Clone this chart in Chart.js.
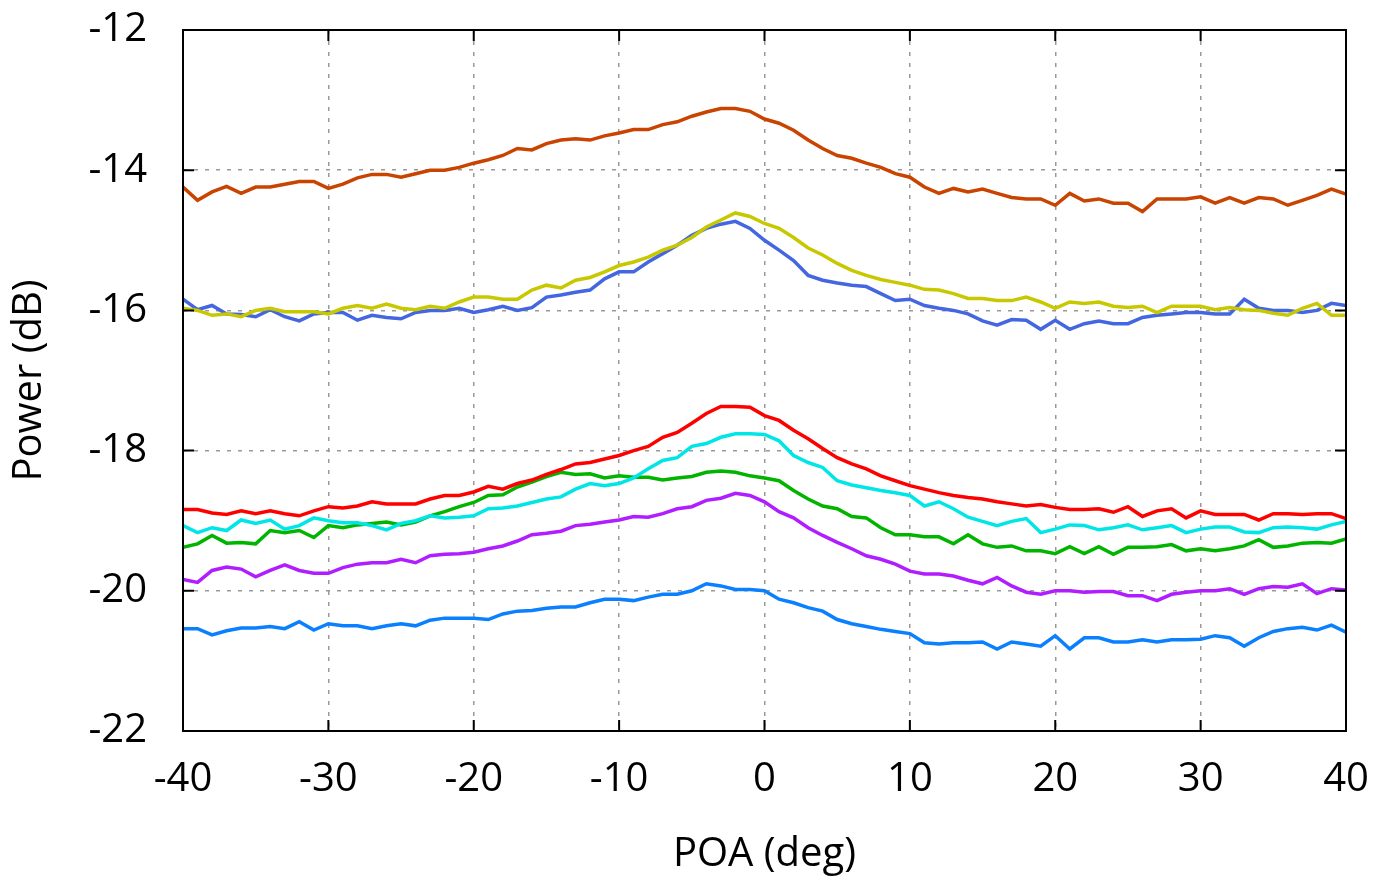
<!DOCTYPE html>
<html>
<head>
<meta charset="utf-8">
<script src="https://cdn.jsdelivr.net/npm/chart.js@4/dist/chart.umd.min.js"></script>
<style>
  html, body { margin: 0; padding: 0; background: #fff; }
  #wrap { width: 1388px; height: 885px; }
</style>
</head>
<body>
<div id="wrap"><canvas id="powerChart"></canvas></div>
<script>
// POA angle (deg), one reading per degree
const angles = [-40,-39,-38,-37,-36,-35,-34,-33,-32,-31,-30,-29,-28,-27,-26,-25,-24,-23,-22,-21,
  -20,-19,-18,-17,-16,-15,-14,-13,-12,-11,-10,-9,-8,-7,-6,-5,-4,-3,-2,-1,
  0,1,2,3,4,5,6,7,8,9,10,11,12,13,14,15,16,17,18,19,
  20,21,22,23,24,25,26,27,28,29,30,31,32,33,34,35,36,37,38,39,40];

const xTicks = [-40, -30, -20, -10, 0, 10, 20, 30, 40];
const yTicks = [-22, -20, -18, -16, -14, -12];

// power readings (dB)
const rust = [-14.24,-14.43,-14.31,-14.23,-14.33,-14.24,-14.24,-14.20,-14.16,-14.16,-14.26,-14.20,-14.11,-14.06,-14.06,-14.10,-14.05,-14.00,-14.00,-13.96,-13.90,-13.85,-13.79,-13.69,-13.71,-13.62,-13.57,
  -13.55,-13.57,-13.51,-13.47,-13.42,-13.42,-13.35,-13.31,-13.23,-13.17,-13.12,-13.12,-13.16,-13.27,-13.33,-13.43,-13.57,-13.69,-13.79,-13.83,-13.90,-13.96,-14.05,-14.10,-14.24,-14.33,
  -14.26,-14.31,-14.27,-14.33,-14.39,-14.41,-14.41,-14.50,-14.33,-14.44,-14.41,-14.47,-14.47,-14.59,-14.41,-14.41,-14.41,-14.38,-14.47,-14.39,-14.47,-14.39,-14.41,-14.50,-14.43,-14.36,-14.27,-14.34];

const yellow = [-15.97,-16.00,-16.07,-16.05,-16.09,-16.00,-15.97,-16.02,-16.02,-16.02,-16.05,-15.97,-15.93,-15.97,-15.91,-15.97,-15.99,-15.94,-15.97,-15.88,-15.81,-15.81,-15.84,-15.84,-15.71,-15.64,-15.68,
  -15.57,-15.53,-15.45,-15.36,-15.31,-15.24,-15.14,-15.07,-14.96,-14.81,-14.71,-14.61,-14.66,-14.76,-14.83,-14.96,-15.11,-15.21,-15.33,-15.43,-15.50,-15.56,-15.60,-15.64,-15.70,-15.71,
  -15.76,-15.83,-15.83,-15.86,-15.86,-15.81,-15.88,-15.97,-15.88,-15.90,-15.88,-15.94,-15.96,-15.94,-16.03,-15.94,-15.94,-15.94,-15.99,-15.96,-15.99,-16.00,-16.04,-16.07,-15.97,-15.90,-16.07,-16.07];

const royal = [-15.84,-15.99,-15.93,-16.05,-16.06,-16.09,-15.99,-16.09,-16.15,-16.05,-16.03,-16.03,-16.14,-16.07,-16.10,-16.12,-16.03,-16.00,-16.00,-15.97,-16.03,-15.99,-15.94,-16.00,-15.96,-15.81,-15.78,
  -15.74,-15.71,-15.55,-15.45,-15.45,-15.31,-15.19,-15.07,-14.93,-14.83,-14.77,-14.73,-14.83,-15.00,-15.14,-15.29,-15.50,-15.57,-15.61,-15.64,-15.66,-15.76,-15.86,-15.84,-15.93,-15.97,
  -16.00,-16.05,-16.15,-16.21,-16.13,-16.14,-16.27,-16.14,-16.27,-16.19,-16.15,-16.19,-16.19,-16.10,-16.07,-16.05,-16.03,-16.03,-16.05,-16.05,-15.84,-15.97,-16.00,-16.00,-16.03,-16.00,-15.90,-15.93];

const red = [-18.84,-18.84,-18.89,-18.91,-18.86,-18.90,-18.86,-18.90,-18.93,-18.86,-18.80,-18.82,-18.79,-18.73,-18.76,-18.76,-18.76,-18.69,-18.64,-18.64,-18.59,-18.51,-18.55,-18.47,-18.42,-18.34,-18.27,-18.19,
  -18.17,-18.12,-18.07,-18.00,-17.94,-17.81,-17.74,-17.61,-17.47,-17.37,-17.37,-17.38,-17.50,-17.57,-17.71,-17.83,-17.97,-18.10,-18.19,-18.26,-18.36,-18.43,-18.50,-18.55,-18.60,-18.64,
  -18.67,-18.69,-18.73,-18.76,-18.79,-18.77,-18.81,-18.84,-18.84,-18.83,-18.88,-18.80,-18.94,-18.86,-18.83,-18.96,-18.86,-18.91,-18.91,-18.91,-18.99,-18.90,-18.90,-18.91,-18.90,-18.90,-18.97];

const cyan = [-19.07,-19.17,-19.10,-19.14,-18.99,-19.04,-18.99,-19.12,-19.07,-18.96,-19.00,-19.03,-19.03,-19.07,-19.13,-19.04,-19.00,-18.93,-18.96,-18.95,-18.93,-18.83,-18.82,-18.79,-18.74,-18.69,-18.66,-18.55,
  -18.47,-18.50,-18.47,-18.39,-18.26,-18.14,-18.10,-17.94,-17.90,-17.81,-17.76,-17.76,-17.77,-17.86,-18.07,-18.17,-18.24,-18.43,-18.49,-18.53,-18.57,-18.60,-18.64,-18.79,-18.73,-18.83,
  -18.95,-19.01,-19.07,-19.01,-18.97,-19.17,-19.12,-19.06,-19.07,-19.13,-19.10,-19.06,-19.13,-19.10,-19.07,-19.17,-19.12,-19.09,-19.09,-19.16,-19.17,-19.10,-19.09,-19.10,-19.12,-19.06,-19.01];

const green = [-19.38,-19.33,-19.21,-19.32,-19.31,-19.33,-19.14,-19.17,-19.14,-19.24,-19.07,-19.10,-19.06,-19.04,-19.02,-19.06,-19.02,-18.93,-18.87,-18.80,-18.74,-18.64,-18.63,-18.52,-18.45,-18.37,-18.31,-18.34,
  -18.33,-18.39,-18.36,-18.38,-18.38,-18.42,-18.39,-18.37,-18.31,-18.29,-18.31,-18.36,-18.39,-18.43,-18.57,-18.69,-18.79,-18.83,-18.94,-18.96,-19.10,-19.20,-19.20,-19.23,-19.23,-19.33,
  -19.20,-19.33,-19.38,-19.36,-19.43,-19.43,-19.47,-19.37,-19.47,-19.37,-19.48,-19.38,-19.38,-19.37,-19.34,-19.43,-19.40,-19.43,-19.40,-19.36,-19.27,-19.38,-19.36,-19.32,-19.31,-19.32,-19.26];

const purple = [-19.84,-19.88,-19.71,-19.66,-19.69,-19.80,-19.71,-19.63,-19.71,-19.75,-19.75,-19.67,-19.62,-19.60,-19.60,-19.55,-19.60,-19.50,-19.48,-19.47,-19.45,-19.40,-19.36,-19.29,-19.20,-19.18,-19.15,-19.07,
  -19.05,-19.02,-18.99,-18.94,-18.95,-18.90,-18.83,-18.80,-18.71,-18.68,-18.61,-18.64,-18.73,-18.87,-18.96,-19.10,-19.21,-19.31,-19.40,-19.50,-19.55,-19.62,-19.72,-19.76,-19.76,-19.79,
  -19.85,-19.90,-19.81,-19.93,-20.02,-20.05,-20.00,-20.00,-20.02,-20.01,-20.01,-20.07,-20.07,-20.14,-20.05,-20.02,-20.00,-20.00,-19.97,-20.05,-19.97,-19.94,-19.95,-19.90,-20.04,-19.97,-19.99];

const azure = [-20.54,-20.54,-20.63,-20.57,-20.53,-20.53,-20.51,-20.54,-20.44,-20.56,-20.47,-20.50,-20.50,-20.54,-20.50,-20.47,-20.50,-20.42,-20.39,-20.39,-20.39,-20.41,-20.33,-20.29,-20.28,-20.25,-20.23,-20.23,
  -20.17,-20.12,-20.12,-20.14,-20.09,-20.05,-20.05,-20.00,-19.90,-19.93,-19.98,-19.98,-20.00,-20.12,-20.17,-20.24,-20.29,-20.41,-20.47,-20.51,-20.55,-20.58,-20.61,-20.74,-20.76,-20.74,
  -20.74,-20.73,-20.83,-20.73,-20.76,-20.79,-20.64,-20.83,-20.67,-20.67,-20.73,-20.73,-20.70,-20.73,-20.70,-20.70,-20.69,-20.64,-20.67,-20.79,-20.67,-20.58,-20.54,-20.52,-20.56,-20.49,-20.59];

const series = [
  { vals: rust,   color: '#c84400' },
  { vals: yellow, color: '#c8c800' },
  { vals: royal,  color: '#4466e0' },
  { vals: red,    color: '#ff0000' },
  { vals: cyan,   color: '#00e6e6' },
  { vals: green,  color: '#00b400' },
  { vals: purple, color: '#b01eff' },
  { vals: azure,  color: '#0a80ff' }
];

// frame round the plot area + small inward ticks on all four sides
const framePlugin = {
  id: 'framePlugin',
  afterDraw(chart) {
    const { ctx, chartArea: a, scales: { x, y } } = chart;
    const len = 11;
    ctx.save();
    ctx.strokeStyle = '#000';
    ctx.lineWidth = 2;
    ctx.beginPath();
    xTicks.forEach(v => {
      const px = x.getPixelForValue(v);
      ctx.moveTo(px, a.bottom); ctx.lineTo(px, a.bottom - len);
      ctx.moveTo(px, a.top); ctx.lineTo(px, a.top + len);
    });
    yTicks.forEach(v => {
      const py = y.getPixelForValue(v);
      ctx.moveTo(a.left, py); ctx.lineTo(a.left + len, py);
      ctx.moveTo(a.right, py); ctx.lineTo(a.right - len, py);
    });
    ctx.stroke();
    ctx.strokeRect(a.left, a.top, a.right - a.left, a.bottom - a.top);
    ctx.restore();
  }
};

Chart.defaults.font.family = "'Open Sans', sans-serif";
Chart.defaults.color = '#000';

const ctx = document.getElementById('powerChart').getContext('2d');
new Chart(ctx, {
  type: 'line',
  data: {
    datasets: series.map(s => ({
      data: angles.map((a, i) => ({ x: a, y: s.vals[i] })),
      borderColor: s.color,
      borderWidth: 3.5,
      pointRadius: 0,
      tension: 0,
      fill: false
    }))
  },
  options: {
    responsive: true,
    maintainAspectRatio: false,
    animation: false,
    layout: { padding: 0 },
    plugins: { legend: { display: false }, tooltip: { enabled: false } },
    scales: {
      x: {
        type: 'linear',
        min: -40, max: 40,
        afterFit: scale => {
          scale.height = 154;
          scale.paddingLeft = 0;
          scale.paddingRight = 42;
        },
        ticks: { stepSize: 10, padding: 25, font: { size: 40 }, maxRotation: 0 },
        grid: { color: '#999', lineWidth: 1.5, drawTicks: false },
        border: { display: false, dash: [4, 7] },
        title: { display: true, text: 'POA (deg)', font: { size: 40 }, padding: { top: 0, bottom: 6 } }
      },
      y: {
        min: -22, max: -12,
        afterFit: scale => {
          scale.width = 183;
          scale.paddingTop = 30;
          scale.paddingBottom = 0;
        },
        ticks: { stepSize: 2, padding: 36, font: { size: 40 } },
        grid: { color: '#999', lineWidth: 1.5, drawTicks: false },
        border: { display: false, dash: [4, 7] },
        title: { display: true, text: 'Power (dB)', font: { size: 40 }, padding: { top: 6, bottom: 0 } }
      }
    }
  },
  plugins: [framePlugin]
});
</script>
</body>
</html>
